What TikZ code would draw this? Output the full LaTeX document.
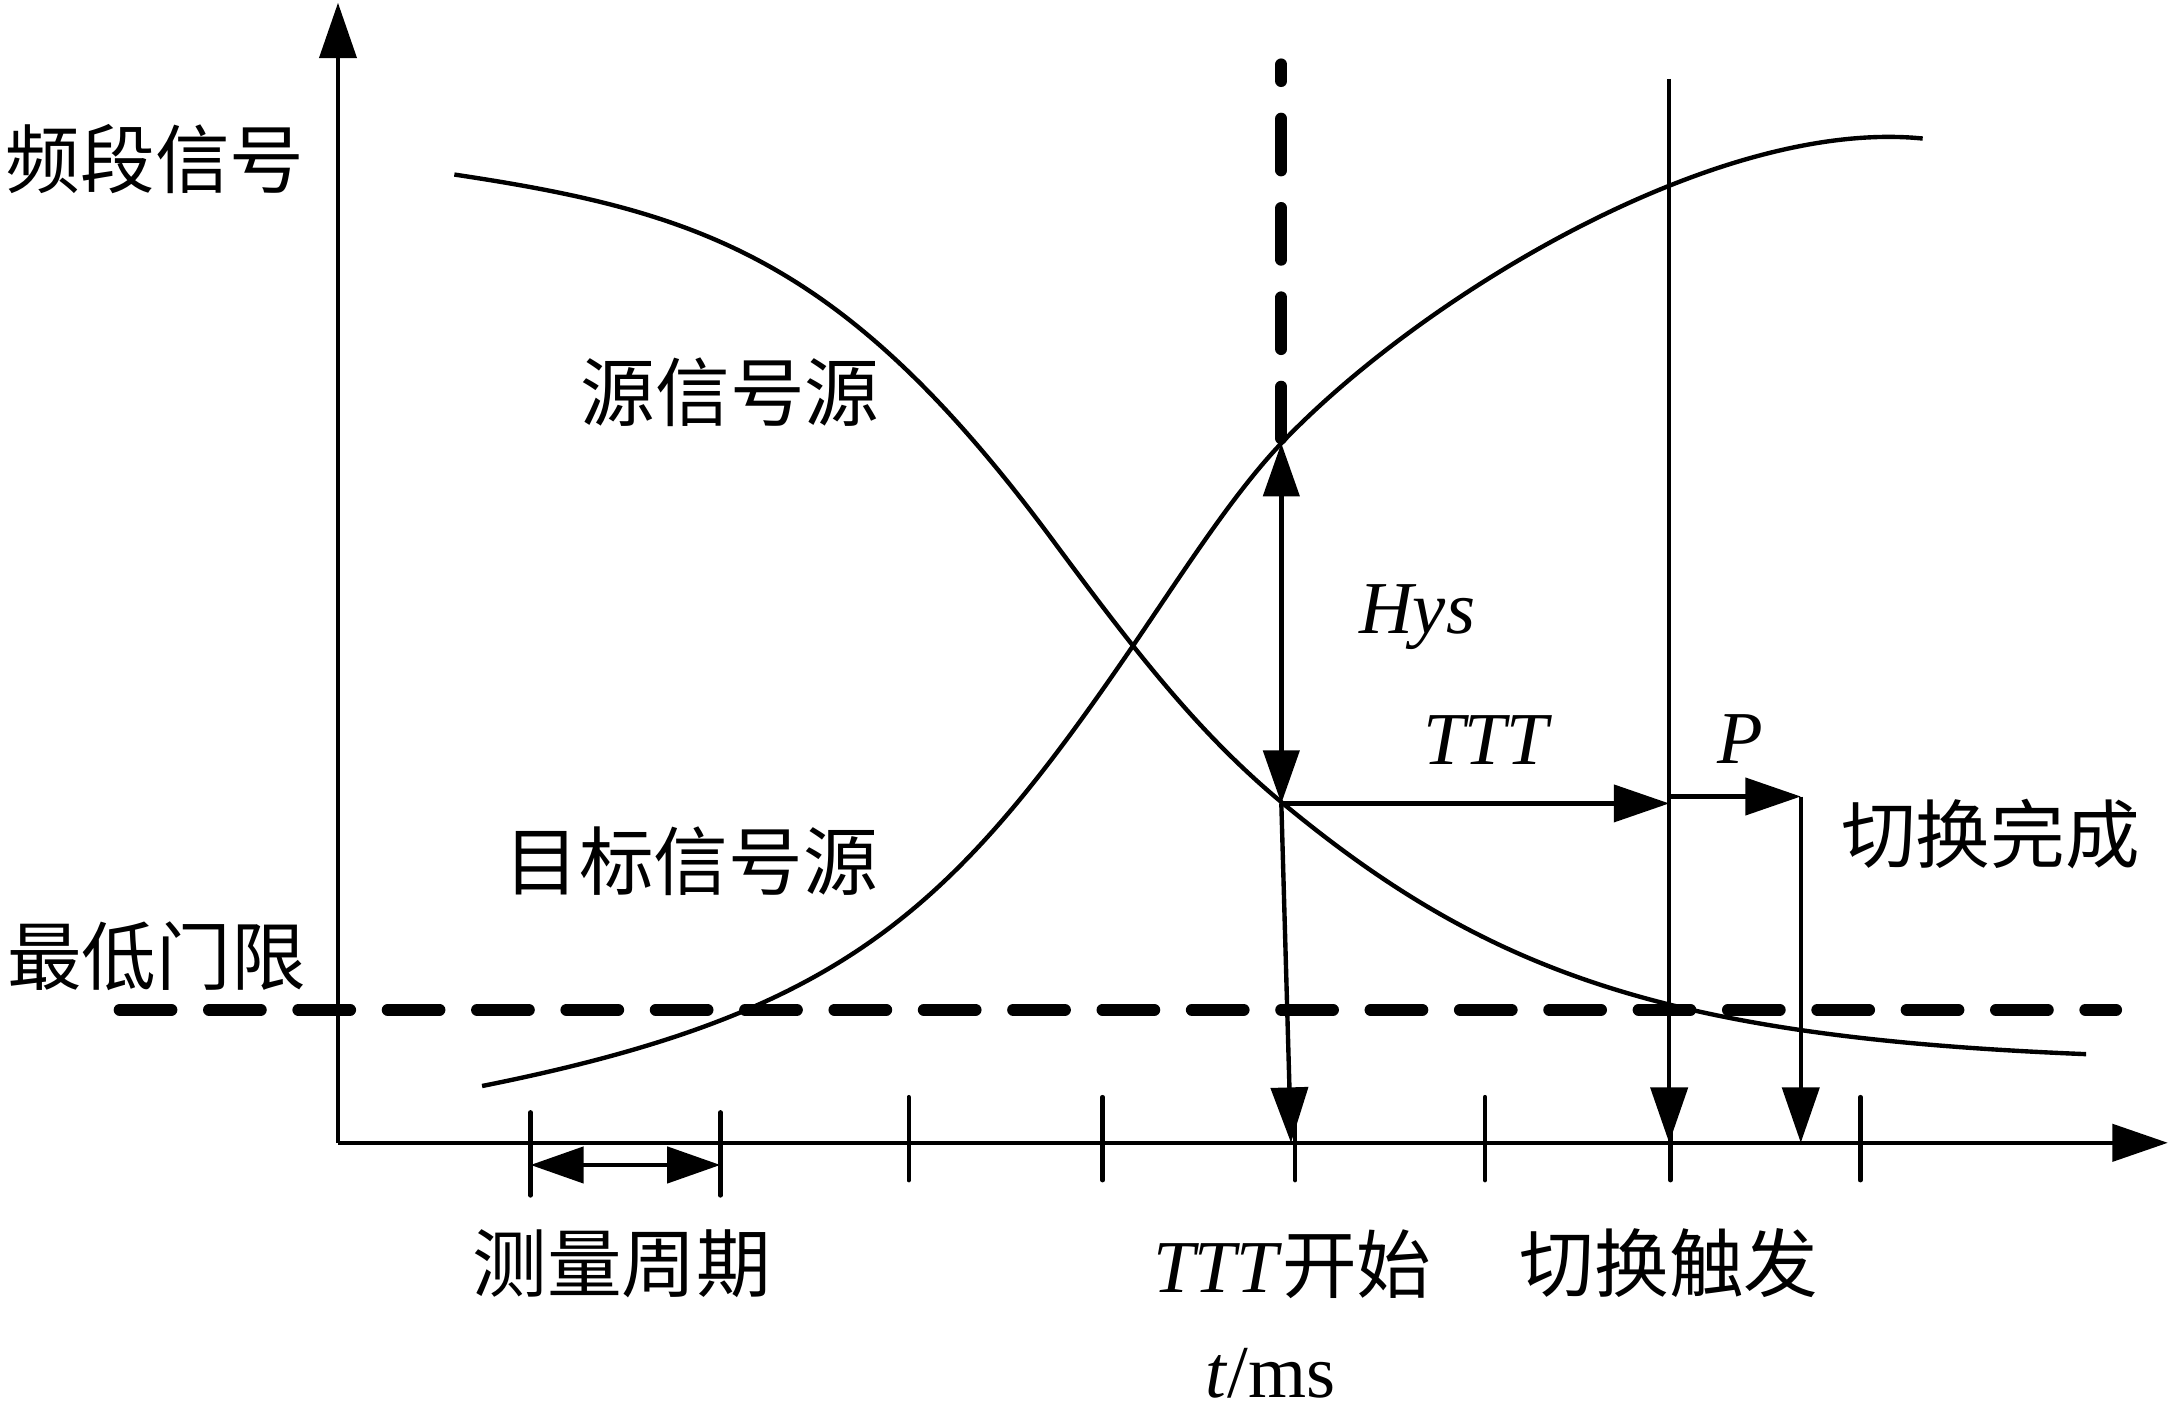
\documentclass[tikz,border=0pt]{standalone}
\usepackage{fontspec}
\setmainfont{Liberation Serif}
\newfontfamily\cjk{Noto Sans CJK SC}
\usetikzlibrary{arrows.meta}
\begin{document}
\begin{tikzpicture}[x=0.03cm,y=-0.03cm,
  every node/.style={inner sep=0pt, font=\fontsize{46}{50}\selectfont},
  zh/.style={font=\fontsize{46}{50}\selectfont\cjk},
  ln/.style={line width=2.7pt},
  tick/.style={line width=2.7pt, line cap=round},
  arr/.style={ln,-{Triangle[length=1.2cm,width=0.8cm]}},
  darr/.style={ln,{Triangle[length=1.15cm,width=0.78cm]}-{Triangle[length=1.15cm,width=0.78cm]}},
  dashln/.style={line width=7.4pt, line cap=round, dash pattern=on 1.12cm off 0.815cm},
]
\useasboundingbox (0,0) rectangle (1568,1027);

% axes
\coordinate (O) at (244,825);
\coordinate (Ytip) at (244,2);
\coordinate (Xtip) at (1565,825);
\draw[arr] (O) -- (Ytip);
\draw[arr] (O) -- (Xtip);

% ticks
\foreach \x in {383,520} \draw[tick] (\x,803) -- (\x,863);
\foreach \x in {656,796,935,1072,1206,1343} \draw[tick] (\x,792) -- (\x,852);

% measurement period arrow
\coordinate (m1) at (383,841);
\coordinate (m2) at (520,841);
\draw[darr] (m1) -- (m2);

% threshold dashed line
\draw[dashln] (86.4,729) -- (1527.6,729);

% source signal curve (decreasing)
\draw[ln] (328,126) .. controls (508,153) and (610,187.5) .. (760,390)
  .. controls (820,471) and (865,529) .. (925,579)
  .. controls (1075,703.5) and (1206,749) .. (1506,761);

% target signal curve (increasing)
\draw[ln] (348,784) .. controls (608,732) and (686,658.8) .. (816,469)
  .. controls (852,416.4) and (889,357.8) .. (925,320)
  .. controls (1025,215) and (1238,85) .. (1388,100);

% vertical dashed line
\draw[dashln] (925,316.5) -- (925,46.5);

% key points
\coordinate (A) at (925,580);
\coordinate (B) at (925,320);
\coordinate (C) at (1205,580);
\coordinate (Cp) at (1205,575);
\coordinate (D) at (1300,575);
\coordinate (Atick) at (932,825);
\coordinate (Ttop) at (1205,57);
\coordinate (Tbot) at (1205,825);
\coordinate (Dbot) at (1300,825);

\draw[darr] (A) -- (B);
\draw[arr] (A) -- (C);
\draw[arr] (Cp) -- (D);
\draw[arr] (A) -- (Atick);
\draw[arr] (Ttop) -- (Tbot);
\draw[arr] (D) -- (Dbot);

% labels
\node[zh] (ylab) at (112,115) {频段信号};
\node[zh] (src) at (527,283) {源信号源};
\node[zh] (tgt) at (499,622) {目标信号源};
\node[zh] (thr) at (113,690) {最低门限};
\node[zh] (done) at (1437,602) {切换完成};
\node[zh] (meas) at (449,912) {测量周期};
\node[zh] (trig) at (1205,912) {切换触发};
\node[anchor=base] (tttstart) at (933,933) {\textit{TTT}{\cjk 开始}};
\node[anchor=base] (tms) at (917,1009) {\textit{t}/ms};
\node[anchor=base] (hys) at (1023,457) {\textit{Hys}};
\node[anchor=base] (tttlab) at (1074,552) {\textit{TTT}};
\node[anchor=base] (plab) at (1256,551) {\textit{P}};
\end{tikzpicture}
\end{document}
